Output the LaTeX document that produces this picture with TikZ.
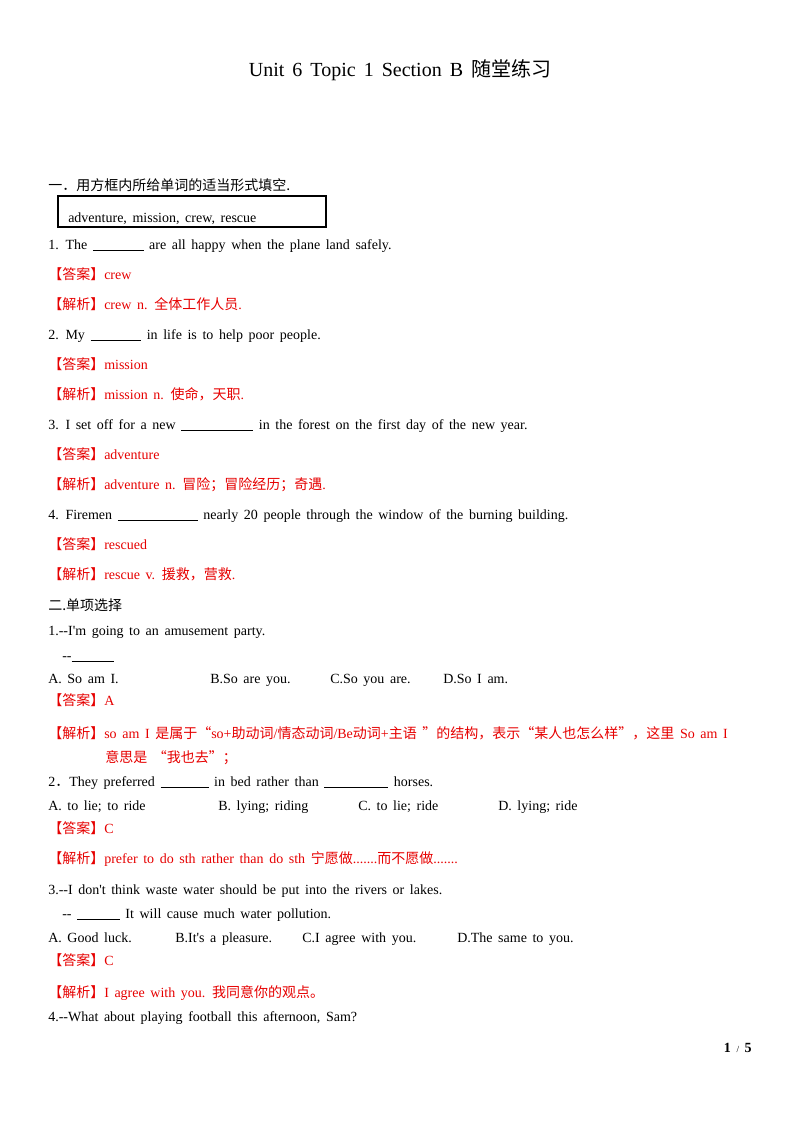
\documentclass[tikz,border=0pt]{standalone}
\usepackage{fontspec}
\setmainfont{Liberation Serif}
\newfontfamily\lserif{Liberation Serif}
\newfontfamily\cjk{Noto Sans CJK SC}
\definecolor{ansred}{RGB}{230,0,0}
\newcommand{\C}[1]{{\cjk #1}}
\newcommand{\U}[1]{\rule[-1.2pt]{#1pt}{0.5pt}}
\newcommand{\bodyfont}{\lserif\fontsize{10.5}{12}\selectfont\spaceskip=4.2pt plus 1pt\relax}
\newcommand{\titlefont}{\lserif\fontsize{15}{18}\selectfont\spaceskip=6pt\relax}
\begin{document}
\begin{tikzpicture}[x=0.75pt,y=-0.75pt,
  every node/.style={anchor=base west,inner sep=0pt,font=\bodyfont,yshift=-6pt},
  red/.style={text=ansred}]
\useasboundingbox (0,0) rectangle (800,1132);
\node[anchor=base,font=\titlefont] (title) at (400,68) {Unit 6 Topic 1 Section B \C{随堂练习}};
\node (s1) at (48,182) {\C{一．用方框内所给单词的适当形式填空.}};
\draw[line width=0.8pt] (58,196) rectangle (326,227);
\node (box) at (68,214) {adventure, mission, crew, rescue};
\node (q1) at (48,241) {1. The \U{38} are all happy when the plane land safely.};
\node[red] (a1) at (48,271) {\C{【答案】}crew};
\node[red] (e1) at (48,301) {\C{【解析】}crew n. \C{全体工作人员}.};
\node (q2) at (48,331) {2. My \U{38} in life is to help poor people.};
\node[red] (a2) at (48,361) {\C{【答案】}mission};
\node[red] (e2) at (48,391) {\C{【解析】}mission n. \C{使命，天职}.};
\node (q3) at (48,421) {3. I set off for a new \U{54} in the forest on the first day of the new year.};
\node[red] (a3) at (48,451) {\C{【答案】}adventure};
\node[red] (e3) at (48,481) {\C{【解析】}adventure n. \C{冒险；冒险经历；奇遇}.};
\node (q4) at (48,511) {4. Firemen \U{60} nearly 20 people through the window of the burning building.};
\node[red] (a4) at (48,541) {\C{【答案】}rescued};
\node[red] (e4) at (48,571) {\C{【解析】}rescue v. \C{援救，营救}.};
\node (s2) at (48,602) {\C{二.单项选择}};
\node (m1) at (48,627) {1.--I'm going to an amusement party.};
\node (m1b) at (62,652) {--\U{32}};
\node (m1A) at (48,675) {A. So am I.};
\node (m1B) at (210,675) {B.So are you.};
\node (m1C) at (330,675) {C.So you are.};
\node (m1D) at (443,675) {D.So I am.};
\node[red] (ma1) at (48,697) {\C{【答案】}A};
\node[red] (me1) at (48,730) {\C{【解析】}so am I \C{是属于“}so+\C{助动词}/\C{情态动词}/Be\C{动词}+\C{主语 ”的结构，表示“某人也怎么样”，这里} So am I};
\node[red] (me1b) at (105,754) {\C{意思是 “我也去”；}};
\node (m2) at (48,778) {2\C{．}They preferred \U{36} in bed rather than \U{48} horses.};
\node (m2A) at (48,802) {A. to lie; to ride};
\node (m2B) at (218,802) {B. lying; riding};
\node (m2C) at (358,802) {C. to lie; ride};
\node (m2D) at (498,802) {D. lying; ride};
\node[red] (ma2) at (48,825) {\C{【答案】}C};
\node[red] (me2) at (48,855) {\C{【解析】}prefer to do sth rather than do sth \C{宁愿做}.......\C{而不愿做}.......};
\node (m3) at (48,886) {3.--I don't think waste water should be put into the rivers or lakes.};
\node (m3b) at (62,910) {-- \U{32} It will cause much water pollution.};
\node (m3A) at (48,934) {A. Good luck.};
\node (m3B) at (175,934) {B.It's a pleasure.};
\node (m3C) at (302,934) {C.I agree with you.};
\node (m3D) at (457,934) {D.The same to you.};
\node[red] (ma3) at (48,957) {\C{【答案】}C};
\node[red] (me3) at (48,989) {\C{【解析】}I agree with you. \C{我同意你的观点。}};
\node (m4) at (48,1013) {4.--What about playing football this afternoon, Sam?};
\node[anchor=base east] (pg) at (752,1044) {\textbf{1} {\fontsize{7}{8}\selectfont /} \textbf{5}};
\end{tikzpicture}
\end{document}
